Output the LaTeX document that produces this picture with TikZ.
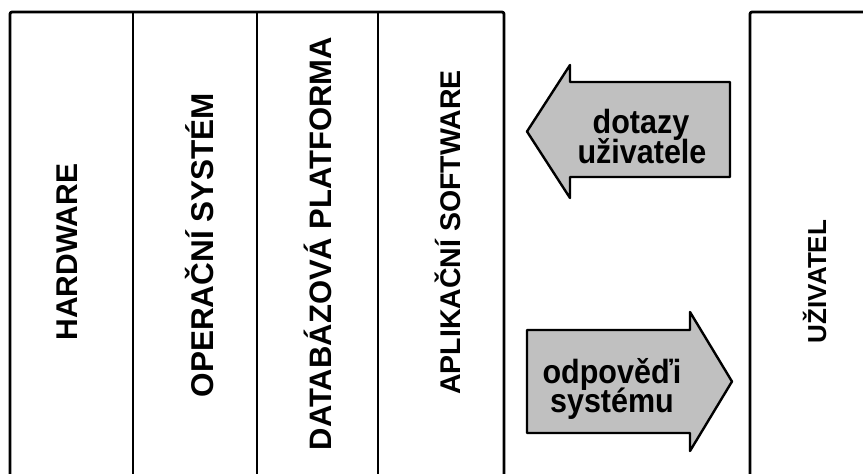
\documentclass[tikz,border=0pt]{standalone}
\usepackage{fontspec}
\setmainfont{Liberation Sans}
\usetikzlibrary{positioning}

\definecolor{flowgrey}{RGB}{192,192,192}
\newcommand{\stretched}[1]{\scalebox{1}[1.1]{#1}}

\tikzset{
	frame/.style={line width=2.8pt, line join=round, rounded corners=2pt},
	layer/.style={rotate=90, anchor=base, inner sep=0pt, font=\bfseries\fontsize{#1}{#1}\selectfont},
	flow/.style={fill=flowgrey, draw=black, line width=2.4pt, line join=round},
	flowtext/.style={anchor=base, inner sep=0pt, font=\bfseries\fontsize{30.5}{30.5}\selectfont}
}

\begin{document}
\begin{tikzpicture}[x=1pt, y=-1pt]

		\useasboundingbox (0,0) rectangle (863,474);

		\draw[frame] (10,490) -- (10,12) -- (504,12) -- (504,490);
		\draw[frame] (133,12) -- (133,490);
		\draw[frame] (257,12) -- (257,490);
		\draw[frame] (378,12) -- (378,490);
		\draw[frame] (880,12) -- (750,12) -- (750,490);

		\node(hardware)[layer=30] at (77,252) {HARDWARE};
		\node(os)[layer=31.5] at (213,245) {OPERAČNÍ SYSTÉM};
		\node(db)[layer=31] at (331,243.5) {DATABÁZOVÁ PLATFORMA};
		\node(app)[layer=28.5] at (460,232.5) {APLIKAČNÍ SOFTWARE};
		\node(user)[layer=26] at (826,281.5) {UŽIVATEL};

		\draw[flow] (527,131.5) -- (570,65) -- (570,82) -- (730,82) -- (730,177) -- (570,177) -- (570,198) -- cycle;
		\draw[flow] (732,381.5) -- (690,312) -- (690,330) -- (527,330) -- (527,433) -- (690,433) -- (690,451) -- cycle;

		\node(query-1)[flowtext] at (641,133) {\stretched{dotazy}};
		\node(query-2)[flowtext] at (642,163) {\stretched{uživatele}};
		\node(answer-1)[flowtext] at (612,383) {\stretched{odpověďi}};
		\node(answer-2)[flowtext] at (612,412) {\stretched{systému}};
	\end{tikzpicture}
\end{document}
